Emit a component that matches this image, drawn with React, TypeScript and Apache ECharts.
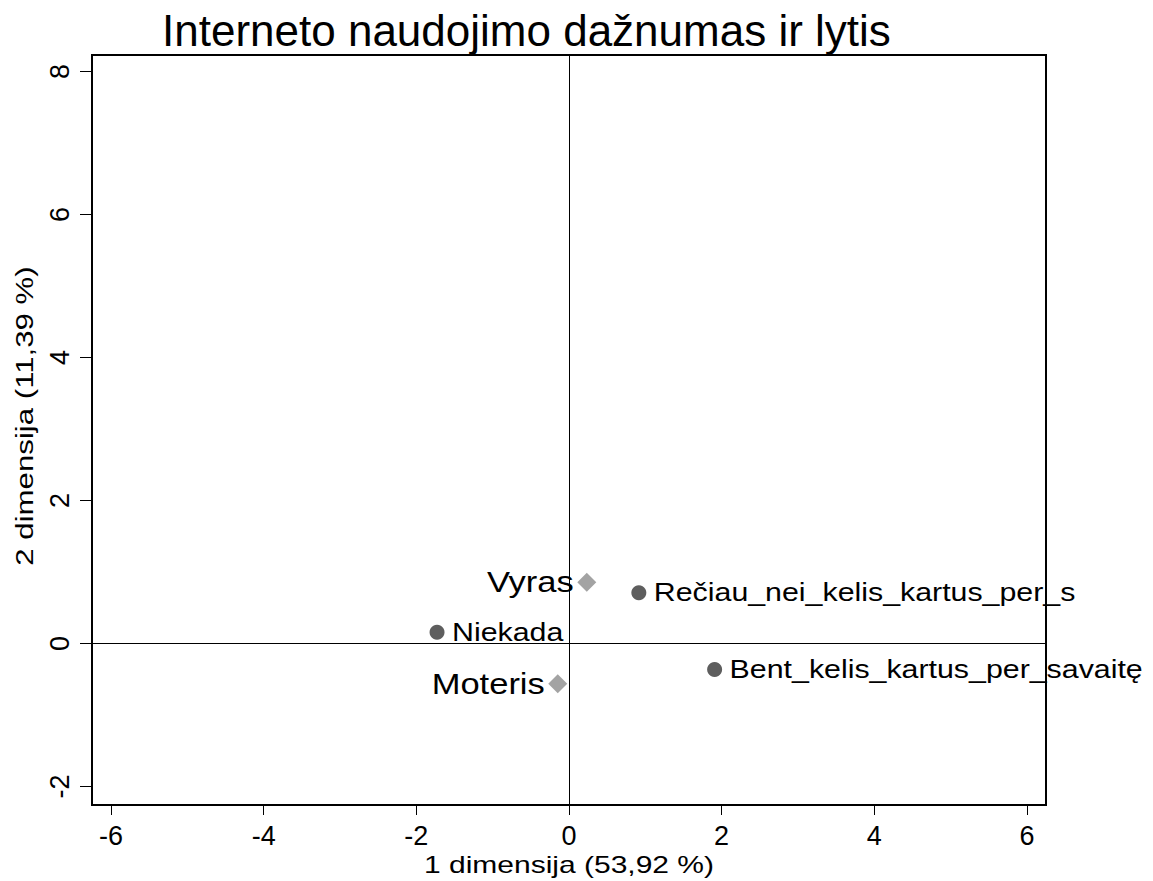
import React, { useEffect, useRef } from "react";
import * as echarts from "echarts";

const titleText = "Interneto naudojimo dažnumas ir lytis";
const xAxisName = "1 dimensija (53,92 %)";
const yAxisName = "2 dimensija (11,39 %)";

const xTicks = [-6, -4, -2, 0, 2, 4, 6];
const yTicks = [-2, 0, 2, 4, 6, 8];

const freqNames = ["Rečiau_nei_kelis_kartus_per_s", "Niekada", "Bent_kelis_kartus_per_savaitę"];
const freqX = [0.915, -1.729, 1.908];
const freqY = [0.708, 0.157, -0.365];

const sexNames = ["Vyras", "Moteris"];
const sexX = [0.233, -0.147];
const sexY = [0.856, -0.565];

const FONT = "'Liberation Sans', Arial, sans-serif";
const STRETCH = 1.19;

export default function App() {
  const ref = useRef<HTMLDivElement>(null);
  useEffect(() => {
    if (!ref.current) return;
    const chart = echarts.init(ref.current, undefined, { renderer: "svg" });
    const freqData = freqNames.map((n, i) => ({ name: n, value: [freqX[i], freqY[i]] }));
    const sexData = sexNames.map((n, i) => ({ name: n, value: [sexX[i], sexY[i]] }));

    const labelSeries = (data: any[], names: string[], side: "left" | "right", size: number, offset: number) => ({
      type: "custom",
      data,
      silent: true,
      z: 4,
      encode: { x: 0, y: 1 },
      renderItem: (params: any, api: any) => {
        const pt = api.coord([api.value(0), api.value(1)]);
        return {
          type: "text",
          x: pt[0] + (side === "right" ? offset : -offset),
          y: pt[1],
          scaleX: STRETCH,
          style: {
            text: names[params.dataIndex],
            fontFamily: FONT,
            fontSize: size,
            fill: "#000",
            align: side === "right" ? "left" : "right",
            verticalAlign: "middle",
          },
        };
      },
    });

    chart.setOption({
      animation: false,
      backgroundColor: "#ffffff",
      textStyle: { fontFamily: FONT },
      title: {
        text: titleText,
        left: 157,
        top: 3,
        textStyle: { fontFamily: FONT, fontSize: 44, fontWeight: "normal", color: "#000" },
      },
      grid: {
        left: 92,
        right: 107,
        top: 55,
        bottom: 76,
        show: true,
        borderColor: "#000",
        borderWidth: 2,
        backgroundColor: "transparent",
      },
      graphic: [
        {
          type: "text",
          x: 569,
          y: 865,
          scaleX: 1.25,
          style: {
            text: xAxisName,
            fontFamily: FONT,
            fontSize: 24,
            fill: "#000",
            align: "center",
            verticalAlign: "middle",
          },
        },
        {
          type: "text",
          x: 25,
          y: 416,
          rotation: Math.PI / 2,
          scaleX: 1.3,
          style: {
            text: yAxisName,
            fontFamily: FONT,
            fontSize: 24,
            fill: "#000",
            align: "center",
            verticalAlign: "middle",
          },
        },
      ],
      xAxis: {
        type: "value",
        min: -6.25,
        max: 6.25,
        axisLine: { show: true, onZero: false, lineStyle: { color: "#000", width: 2 } },
        axisTick: { show: true, length: 10, customValues: xTicks, lineStyle: { color: "#000", width: 1 } },
        axisLabel: { customValues: xTicks, fontFamily: FONT, fontSize: 27, color: "#000", margin: 17 },
        splitLine: { show: false },
      },
      yAxis: {
        type: "value",
        min: -2.26,
        max: 8.23,
        axisLine: { show: true, onZero: false, lineStyle: { color: "#000", width: 2 } },
        axisTick: { show: true, length: 12, customValues: yTicks, lineStyle: { color: "#000", width: 1 } },
        axisLabel: { customValues: yTicks, rotate: 90, fontFamily: FONT, fontSize: 27, color: "#000", margin: 19 },
        splitLine: { show: false },
      },
      series: [
        {
          type: "scatter",
          name: "freq",
          data: freqData,
          symbol: "circle",
          symbolSize: 15,
          itemStyle: { color: "#5e5e5e", opacity: 1 },
          markLine: {
            silent: true,
            symbol: ["none", "none"],
            label: { show: false },
            lineStyle: { color: "#000", width: 1, type: "solid" },
            emphasis: { disabled: true },
            data: [{ xAxis: 0 }, { yAxis: 0 }],
          },
          z: 3,
        },
        {
          type: "scatter",
          name: "sex",
          data: sexData,
          symbol: "diamond",
          symbolSize: [19, 19],
          itemStyle: { color: "#a3a3a3", opacity: 1 },
          z: 3,
        },
        labelSeries(freqData, freqNames, "right", 25.5, 15),
        labelSeries(sexData, sexNames, "left", 29, 13),
      ],
    });
    return () => chart.dispose();
  }, []);
  return (
    <div
      ref={ref}
      style={{ position: "fixed", left: 0, top: 0, width: 1153, height: 881, background: "#fff" }}
    />
  );
}
